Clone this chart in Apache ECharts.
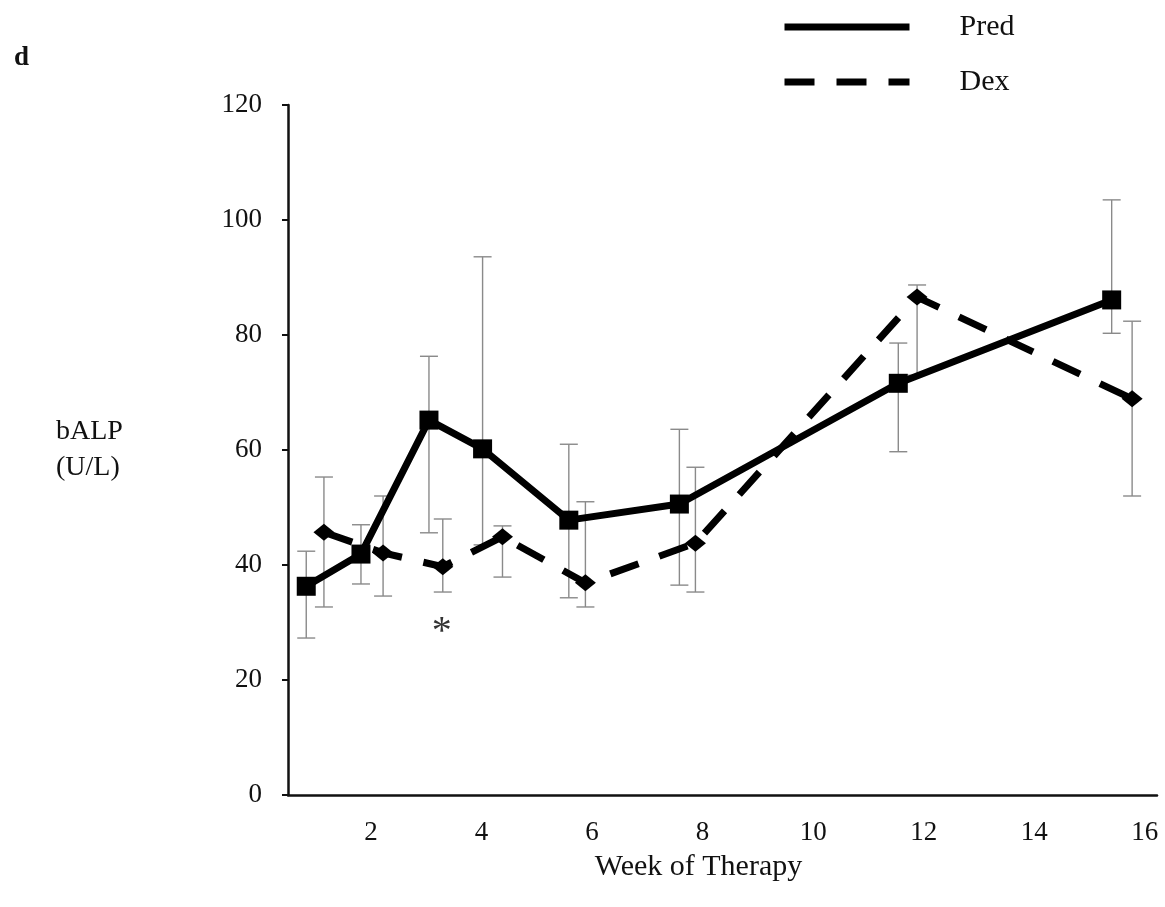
<!DOCTYPE html>
<html>
<head>
<meta charset="utf-8">
<script src="https://cdn.jsdelivr.net/npm/echarts@6/dist/echarts.min.js"></script>
<style>
html,body{margin:0;padding:0;background:#fff;}
#main{width:1165px;height:907px;}
</style>
</head>
<body>
<div id="main"></div>
<script>
// Week positions and bALP means (U/L)
var predWeeks = [0.83, 1.82, 3.05, 4.02, 5.58, 7.58, 11.54, 15.4];
var predValues = [36.3, 41.9, 65.2, 60.2, 47.8, 50.6, 71.6, 86.1];
var predLow = [27.3, 36.7, 45.6, 43.5, 34.3, 36.5, 59.7, 80.3];
var predHigh = [42.4, 47.0, 76.3, 93.6, 61.0, 63.6, 78.6, 103.5];

var dexWeeks = [1.15, 2.22, 3.3, 4.38, 5.88, 7.87, 11.88, 15.77];
var dexValues = [45.7, 42.1, 39.7, 44.9, 36.9, 43.8, 86.6, 68.9];
var dexLow = [32.7, 34.6, 35.3, 37.9, 32.7, 35.3, 73.0, 52.0];
var dexHigh = [55.3, 52.0, 48.0, 46.8, 51.0, 57.0, 88.7, 82.4];

var xTickValues = [2, 4, 6, 8, 10, 12, 14, 16];
var asterisk = [3.28, 28.3];

var FONT = '"Liberation Serif", "DejaVu Serif", serif';

function pairs(xs, ys) { return xs.map(function (x, i) { return [x, ys[i]]; }); }
function errData(xs, lo, hi) { return xs.map(function (x, i) { return [x, lo[i], hi[i]]; }); }

function renderErr(params, api) {
  var x = api.value(0);
  var lo = api.coord([x, api.value(1)]);
  var hi = api.coord([x, api.value(2)]);
  var cap = 9;
  var st = { stroke: '#8a8a8a', lineWidth: 1.4 };
  return {
    type: 'group',
    children: [
      { type: 'line', shape: { x1: lo[0], y1: lo[1], x2: hi[0], y2: hi[1] }, style: st },
      { type: 'line', shape: { x1: lo[0] - cap, y1: lo[1], x2: lo[0] + cap, y2: lo[1] }, style: st },
      { type: 'line', shape: { x1: hi[0] - cap, y1: hi[1], x2: hi[0] + cap, y2: hi[1] }, style: st }
    ]
  };
}

var chart = echarts.init(document.getElementById('main'), null, { renderer: 'canvas' });
chart.setOption({
  backgroundColor: '#ffffff',
  animation: false,
  textStyle: { fontFamily: FONT },
  title: {
    text: 'd', left: 9, top: 40,
    textStyle: { fontFamily: FONT, fontSize: 27, fontWeight: 'bold', color: '#111' }
  },
  legend: {
    orient: 'vertical', left: 776, top: 3,
    itemWidth: 125, itemHeight: 14, itemGap: 17,
    data: ['Pred', 'Dex'],
    itemStyle: { opacity: 0 },
    lineStyle: { width: 7 },
    textStyle: { fontFamily: FONT, fontSize: 30, lineHeight: 32, color: '#111', padding: [0, 0, 6, 45] }
  },
  grid: { left: 288, right: 8, top: 105, bottom: 112 },
  xAxis: {
    type: 'value', min: 0.5, max: 16.22,
    name: 'Week of Therapy', nameLocation: 'middle', nameGap: 57,
    nameTextStyle: { fontFamily: FONT, fontSize: 30, color: '#111', padding: [0, 48, 0, 0] },
    axisLine: { lineStyle: { color: '#111', width: 2.5 } },
    axisTick: { show: false },
    splitLine: { show: false },
    axisLabel: {
      customValues: xTickValues, margin: 24,
      fontFamily: FONT, fontSize: 27, color: '#111'
    }
  },
  yAxis: {
    type: 'value', min: 0, max: 120, interval: 20,
    name: 'bALP\n(U/L)', nameLocation: 'middle', nameRotate: 0, nameGap: 232,
    nameTextStyle: { fontFamily: FONT, fontSize: 28, color: '#111', lineHeight: 36, align: 'left' },
    axisLine: { lineStyle: { color: '#111', width: 2.5 } },
    axisTick: { show: true, length: 6, lineStyle: { color: '#111', width: 2 } },
    splitLine: { show: false },
    axisLabel: { margin: 26, fontFamily: FONT, fontSize: 27, color: '#111' }
  },
  series: [
    {
      type: 'custom', name: 'predErr', renderItem: renderErr, z: 1,
      data: errData(predWeeks, predLow, predHigh), silent: true
    },
    {
      type: 'custom', name: 'dexErr', renderItem: renderErr, z: 1,
      data: errData(dexWeeks, dexLow, dexHigh), silent: true
    },
    {
      name: 'Dex', type: 'line', z: 3,
      data: pairs(dexWeeks, dexValues),
      symbol: 'diamond', symbolSize: [21, 17],
      itemStyle: { color: '#000' },
      lineStyle: { color: '#000', width: 7, type: [30, 22] }
    },
    {
      name: 'Pred', type: 'line', z: 4,
      data: pairs(predWeeks, predValues),
      symbol: 'rect', symbolSize: 19,
      itemStyle: { color: '#000' },
      lineStyle: { color: '#000', width: 7 }
    },
    {
      type: 'scatter', name: 'sig', symbolSize: 0, z: 5, silent: true,
      data: [asterisk],
      label: { show: true, position: 'inside', formatter: '*', fontFamily: FONT, fontSize: 40, color: '#000' }
    }
  ]
});
</script>
</body>
</html>
